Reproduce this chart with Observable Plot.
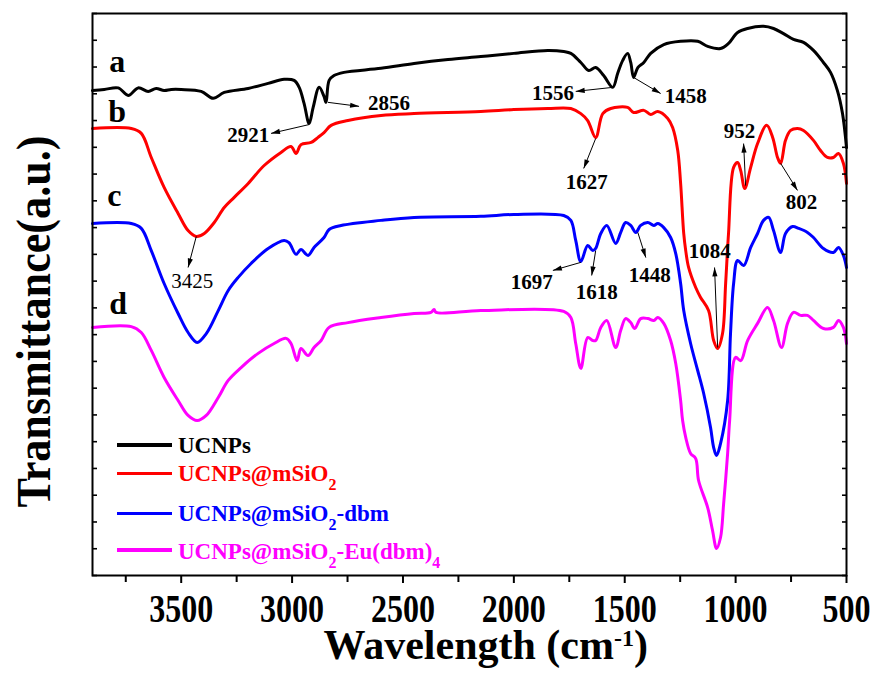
<!DOCTYPE html>
<html><head><meta charset="utf-8">
<script src="https://cdn.jsdelivr.net/npm/d3@7"></script>
<script src="https://cdn.jsdelivr.net/npm/@observablehq/plot@0.6"></script>
<style>
html,body{margin:0;padding:0;background:#fff;}
#wrap{position:relative;width:877px;height:675px;font-family:"Liberation Serif","Times New Roman",serif;}
.row{position:absolute;left:178px;font-size:23px;line-height:23px;font-weight:bold;white-space:nowrap;}
.sw{position:absolute;left:117px;width:55px;height:3.4px;}
.row sub{font-size:16px;vertical-align:-9px;line-height:0;}
</style></head><body><div id="wrap"></div>
<script>
// ---------- data (wavenumber cm-1, transmittance a.u.) ----------
const seriesNames = ["UCNPs", "UCNPs@mSiO2", "UCNPs@mSiO2-dbm", "UCNPs@mSiO2-Eu(dbm)4"];
const seriesColors = ["#000000", "#ff0000", "#0000ff", "#ff00ff"];

const ucnps = [[3900,18.12],[3847,18.16],[3784,18.22],[3739,17.94],[3694,18.22],[3649,18.09],[3613,18.20],[3577,18.12],[3545,18.16],[3500,18.16],[3410,18.09],[3356,17.83],[3306,18.05],[3198,18.20],[3108,18.39],[3036,18.54],[2991,18.50],[2968,18.24],[2946,17.64],[2923,16.89],[2905,17.49],[2878,18.24],[2856,17.90],[2847,17.68],[2833,18.50],[2811,18.68],[2766,18.80],[2599,18.95],[2450,19.13],[2297,19.28],[2149,19.39],[2000,19.51],[1847,19.62],[1775,19.58],[1743,19.51],[1698,19.17],[1662,18.87],[1631,18.98],[1595,18.68],[1554,18.24],[1532,18.76],[1509,19.25],[1487,19.51],[1473,19.17],[1460,18.61],[1441,18.98],[1414,19.17],[1383,19.51],[1324,19.84],[1248,19.96],[1171,19.96],[1126,19.77],[1068,19.69],[1032,19.88],[991,20.29],[946,20.44],[874,20.52],[829,20.44],[784,20.25],[739,20.03],[694,19.92],[649,19.62],[604,19.17],[572,18.80],[541,18.12],[518,17.26],[500,15.99]];

const ucnpsSiO2 = [[3900,16.70],[3725,16.70],[3680,16.52],[3635,15.62],[3577,14.50],[3514,13.53],[3469,12.89],[3432,12.67],[3396,12.78],[3351,13.19],[3306,13.75],[3261,14.13],[3198,14.65],[3126,15.32],[3050,15.81],[3005,16.03],[2982,15.77],[2960,16.10],[2914,16.18],[2883,16.37],[2856,16.55],[2824,16.82],[2748,17.00],[2599,17.19],[2450,17.26],[2149,17.34],[2000,17.41],[1847,17.45],[1743,17.45],[1698,17.26],[1667,17.00],[1631,16.37],[1599,17.26],[1563,17.45],[1487,17.49],[1460,17.30],[1414,17.38],[1383,17.23],[1351,17.34],[1306,17.08],[1284,16.74],[1261,15.88],[1248,14.65],[1234,12.78],[1225,12.14],[1212,11.51],[1180,10.76],[1158,10.39],[1122,9.90],[1099,8.78],[1081,8.48],[1059,9.04],[1045,10.91],[1032,12.78],[1009,15.25],[991,15.43],[977,15.13],[959,14.46],[932,15.25],[901,16.14],[860,16.82],[833,16.37],[811,15.62],[797,15.40],[775,16.26],[752,16.63],[721,16.70],[694,16.63],[649,16.26],[617,15.88],[586,15.62],[559,15.62],[536,15.77],[514,15.40],[500,14.65]];

const ucnpsSiO2Dbm = [[3900,13.15],[3725,13.15],[3680,12.97],[3635,12.14],[3577,10.91],[3514,9.79],[3469,9.08],[3428,8.71],[3387,9.04],[3333,9.90],[3288,10.65],[3243,11.14],[3185,11.66],[3108,12.22],[3036,12.52],[3014,12.44],[2982,12.00],[2960,12.18],[2928,11.96],[2901,12.26],[2856,12.63],[2833,12.93],[2779,13.08],[2599,13.27],[2450,13.38],[2149,13.42],[2000,13.49],[1775,13.45],[1743,13.27],[1721,12.52],[1698,11.73],[1667,12.33],[1644,12.14],[1631,12.22],[1608,12.78],[1581,13.08],[1541,12.41],[1518,12.82],[1496,13.19],[1473,13.08],[1450,12.82],[1428,13.08],[1396,13.19],[1369,13.08],[1351,13.15],[1324,13.00],[1293,12.63],[1270,12.03],[1248,10.91],[1234,9.90],[1203,8.67],[1171,7.66],[1144,6.80],[1113,5.53],[1099,4.78],[1086,4.48],[1068,4.93],[1036,6.54],[1023,9.04],[1009,10.91],[991,11.77],[964,11.58],[932,12.26],[901,12.78],[874,13.27],[851,13.38],[829,12.89],[797,12.07],[775,12.78],[743,13.04],[716,12.97],[676,12.82],[649,12.63],[604,12.22],[559,12.07],[536,12.26],[514,11.96],[500,11.51]];

const ucnpsSiO2Eu = [[3900,9.27],[3725,9.30],[3680,9.08],[3635,8.41],[3577,7.40],[3514,6.54],[3469,5.98],[3428,5.79],[3387,5.98],[3333,6.65],[3288,7.29],[3230,7.77],[3153,8.30],[3081,8.67],[3027,8.86],[3005,8.67],[2977,8.03],[2960,8.48],[2928,8.22],[2901,8.52],[2869,8.78],[2833,9.27],[2748,9.45],[2599,9.64],[2450,9.79],[2374,9.83],[2360,9.94],[2351,9.83],[2149,9.90],[1775,9.87],[1743,9.64],[1721,8.67],[1698,7.74],[1667,8.89],[1644,8.78],[1631,8.78],[1608,9.27],[1581,9.53],[1541,8.52],[1518,9.16],[1496,9.60],[1473,9.45],[1455,9.23],[1428,9.60],[1396,9.60],[1369,9.53],[1351,9.64],[1324,9.42],[1293,8.78],[1270,7.92],[1248,6.54],[1239,5.79],[1225,5.16],[1203,4.56],[1180,4.37],[1167,3.55],[1126,2.54],[1104,1.68],[1086,1.01],[1068,1.42],[1054,2.69],[1036,4.56],[1027,5.79],[1000,8.15],[977,8.03],[946,8.78],[901,9.42],[856,10.01],[829,9.53],[793,8.52],[766,9.42],[739,9.83],[707,9.72],[676,9.72],[649,9.53],[604,9.23],[559,9.27],[536,9.53],[514,9.27],[500,8.67]];

const xMajorTicks = [3500, 3000, 2500, 2000, 1500, 1000, 500];
const xMinorTicks = [3750, 3250, 2750, 2250, 1750, 1250, 750];
const yTicks = d3.range(0, 22);

const curveLetters = ["a", "b", "c", "d"];
const curveLetterW = [3825, 3829, 3834, 3825];
const curveLetterV = [18.80, 16.93, 13.79, 9.79];

const peakLabels = ["2921","2856","1556","1458","1627","952","802","3425","1697","1618","1448","1084"];
const peakLabelW = [3198, 2563, 1824, 1225, 1671, 982, 703, 3450, 1919, 1626, 1387, 1117];
const peakLabelV = [16.18, 17.38, 17.75, 17.64, 14.46, 16.33, 13.71, 10.76, 10.72, 10.35, 10.95, 11.88];
const arrowFromW = [2923, 2838, 1554, 1460, 1631, 955, 797, 3432, 1698, 1631, 1441, 1081];
const arrowFromV = [16.85, 17.68, 18.24, 18.61, 16.33, 14.57, 15.40, 12.67, 11.70, 12.14, 12.82, 8.52];
const arrowToW = [3095, 2698, 1721, 1338, 1685, 964, 721, 3469, 1824, 1649, 1405, 1095];
const arrowToV = [16.52, 17.53, 18.09, 18.01, 15.21, 16.14, 14.39, 11.51, 11.40, 11.21, 11.88, 11.51];

// ---------- build tables ----------
const seriesData = [ucnps, ucnpsSiO2, ucnpsSiO2Dbm, ucnpsSiO2Eu];
const rows = seriesData.flatMap((pts, i) => pts.map(([w, v]) => ({name: seriesNames[i], w, v})));
const letters = curveLetters.map((t, i) => ({t, w: curveLetterW[i], v: curveLetterV[i]}));
const peaks = peakLabels.map((label, i) => ({label, w: peakLabelW[i], v: peakLabelV[i],
  w1: arrowFromW[i], v1: arrowFromV[i], w2: arrowToW[i], v2: arrowToV[i]}));

const FONT = '"Liberation Serif","Times New Roman",serif';

const chart = Plot.plot({
  width: 877, height: 675,
  marginLeft: 92, marginRight: 31, marginTop: 13, marginBottom: 100,
  style: {fontFamily: FONT, background: "white", overflow: "visible"},
  x: {domain: [3900, 500], label: null},
  y: {domain: [0, 21], label: null},
  color: {domain: seriesNames, range: seriesColors},
  marks: [
    Plot.line(rows, {x: "w", y: "v", z: "name", stroke: "name", strokeWidth: 3, strokeLinejoin: "round", curve: "catmull-rom"}),
    Plot.link(peaks, {x1: "w1", y1: "v1", x2: "w2", y2: "v2", stroke: "black", strokeWidth: 1, markerEnd: "arrow"}),
    Plot.text(peaks.filter(d => d.label !== "3425"), {x: "w", y: "v", text: "label", fontSize: 21, fontWeight: "bold", lineAnchor: "bottom", fill: "black"}),
    Plot.text(peaks.filter(d => d.label === "3425"), {x: "w", y: "v", text: "label", fontSize: 21, fontWeight: "normal", lineAnchor: "bottom", fill: "black"}),
    Plot.text(letters, {x: "w", y: "v", text: "t", fontSize: 32, fontWeight: "bold", textAnchor: "start", lineAnchor: "bottom", fill: "black"}),
    Plot.frame({stroke: "black", strokeWidth: 2}),
    Plot.axisX({ticks: xMajorTicks, tickSize: 8, tickPadding: 10, fontSize: 40, fontWeight: "bold", tickFormat: d => String(d), label: null, strokeWidth: 2, fill: "black"}),
    Plot.axisX({ticks: xMinorTicks, tickSize: 7, tickFormat: () => "", label: null, strokeWidth: 2}),
    Plot.axisY({ticks: yTicks, anchor: "left", tickSize: -5, tickFormat: () => "", label: null, strokeWidth: 1.6}),
    Plot.axisY({ticks: yTicks, anchor: "right", tickSize: -5, tickFormat: () => "", label: null, strokeWidth: 1.6}),
    Plot.text(["Transmittance(a.u.)"], {text: d => d, frameAnchor: "left", textAnchor: "middle", lineAnchor: "middle", rotate: -90, dx: -58, dy: 27, fontSize: 48, fontWeight: "bold", fill: "black"}),
    Plot.text(["Wavelength (cm^{-1})"], {text: d => d, frameAnchor: "bottom-left", dx: 231, dy: 83, textAnchor: "start", lineAnchor: "bottom", fontSize: 42, fontWeight: "bold", fill: "black"})
  ]
});
chart.style.display = "block";

// ---------- post-processing of text & arrowheads ----------
const svgns = "http://www.w3.org/2000/svg";
function squeeze(el, sx) {
  const tr = el.getAttribute("transform");
  if (tr) el.setAttribute("transform", tr + ` scale(${sx},1)`);
  else {
    const x = +el.getAttribute("x") || 0, y = +el.getAttribute("y") || 0;
    el.setAttribute("transform", `translate(${x},${y}) scale(${sx},1) translate(${-x},${-y})`);
  }
}
d3.select(chart).selectAll("text").each(function() {
  const t = this.textContent;
  if (/^\d{3,4}$/.test(t) && this.closest('[aria-label="x-axis tick label"]')) squeeze(this, 0.8);
  if (t === "Transmittance(a.u.)") squeeze(this, 0.92);
  if (t.includes("^{")) {
    this.textContent = "";
    let shift = 0;
    for (const part of t.split(/(\^\{[^}]*\})/)) {
      if (!part) continue;
      const ts = document.createElementNS(svgns, "tspan");
      if (part.startsWith("^{")) {
        ts.textContent = part.slice(2, -1);
        ts.setAttribute("font-size", 24);
        ts.setAttribute("dy", -13 - shift); shift = -13;
      } else {
        ts.textContent = part;
        ts.setAttribute("dy", -shift); shift = 0;
      }
      this.appendChild(ts);
    }
  }
});
d3.select(chart).selectAll("marker").each(function() {
  const m = d3.select(this);
  const color = m.attr("stroke") || "black";
  m.attr("viewBox", "-10 -5 11 10").attr("refX", 0).attr("refY", 0)
   .attr("markerWidth", 11).attr("markerHeight", 10).attr("markerUnits", "userSpaceOnUse")
   .attr("fill", color).attr("stroke", "none");
  m.select("path").attr("d", "M-9,-2.6L0,0L-9,2.6Z");
});

const wrap = document.getElementById("wrap");
wrap.appendChild(chart);

// ---------- legend (overlay inside the plot area) ----------
const legendTops = [434, 462, 502, 540];
const swatchTops = [443.3, 471.6, 511.6, 548.3];
seriesNames.forEach((name, i) => {
  const sw = document.createElement("div");
  sw.className = "sw";
  sw.style.top = swatchTops[i] + "px";
  sw.style.background = seriesColors[i];
  wrap.appendChild(sw);
  const row = document.createElement("div");
  row.className = "row";
  row.style.top = legendTops[i] + "px";
  row.style.color = seriesColors[i];
  row.innerHTML = name.replace("O2", "O<sub>2</sub>").replace(/\)4$/, ")<sub>4</sub>");
  wrap.appendChild(row);
});
</script></body></html>
